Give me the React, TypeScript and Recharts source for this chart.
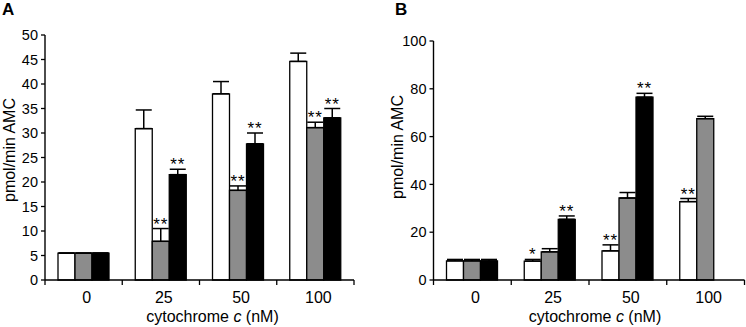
import { BarChart, Bar, XAxis, YAxis, ErrorBar, LabelList, Label } from 'recharts';

const categories = ['0', '25', '50', '100'];

// panel A
const aWhite = [5.5, 30.9, 38.0, 44.6];
const aWhiteErr = [0, 3.8, 2.5, 1.7];
const aWhiteSig = ['', '', '', ''];
const aGray = [5.5, 7.9, 18.3, 31.1];
const aGrayErr = [0, 2.6, 0.9, 1.1];
const aGraySig = ['', '**', '**', '**'];
const aBlack = [5.5, 21.5, 27.8, 33.1];
const aBlackErr = [0, 1.1, 2.2, 1.9];
const aBlackSig = ['', '**', '**', '**'];
const aTicks = [0, 5, 10, 15, 20, 25, 30, 35, 40, 45, 50];

// panel B
const bWhite = [8.0, 7.9, 12.2, 32.8];
const bWhiteErr = [0.6, 0.7, 2.5, 1.3];
const bWhiteSig = ['', '*', '**', '**'];
const bGray = [8.0, 11.8, 34.3, 67.5];
const bGrayErr = [0.6, 1.3, 2.3, 1.0];
const bGraySig = ['', '', '', ''];
const bBlack = [8.0, 25.4, 76.5, null];
const bBlackErr = [0.6, 1.4, 1.6, 0];
const bBlackSig = ['', '**', '**', ''];
const bTicks = [0, 20, 40, 60, 80, 100];

const FONT = '"Liberation Sans", Arial, sans-serif';

const buildRows = (w, we, ws, g, ge, gs, b, be, bs) =>
  categories.map((cat, i) => ({
    cat,
    white: w[i],
    whiteErr: [0, we[i]],
    whiteSig: ws[i],
    gray: g[i],
    grayErr: [0, ge[i]],
    graySig: gs[i],
    black: b[i],
    blackErr: b[i] == null ? undefined : [0, be[i]],
    blackSig: bs[i],
  }));

const rowsA = buildRows(aWhite, aWhiteErr, aWhiteSig, aGray, aGrayErr, aGraySig, aBlack, aBlackErr, aBlackSig);
const rowsB = buildRows(bWhite, bWhiteErr, bWhiteSig, bGray, bGrayErr, bGraySig, bBlack, bBlackErr, bBlackSig);

// asterisks sit just above the error bar cap
const sigLabel = (vals, errs) => (props) => {
  const { x, y, width, height, index, value } = props;
  if (!value) return null;
  const perUnit = height / vals[index];
  const top = y - errs[index] * perUnit;
  return (
    <text x={x + width / 2} y={top + 1} textAnchor="middle" fontSize={17} letterSpacing={1} fontFamily={FONT} fill="#000">
      {value}
    </text>
  );
};

const CatTick = (props) => {
  const { x, y, payload, index, visibleTicksCount } = props;
  const half = payload.offset || 0;
  const last = index === (visibleTicksCount || categories.length) - 1;
  return (
    <g>
      <line x1={x - half} x2={x - half} y1={y} y2={y + 5} stroke="#000" strokeWidth={1.3} />
      {last && <line x1={x + half} x2={x + half} y1={y} y2={y + 5} stroke="#000" strokeWidth={1.3} />}
      <text x={x + 3} y={y + 23} textAnchor="middle" fontSize={16} fontFamily={FONT} fill="#000">
        {payload.value}
      </text>
    </g>
  );
};

const xTitle = (shift) => (props) => {
  const vb = props.viewBox;
  return (
    <text x={vb.x + vb.width / 2 + shift} y={vb.y + 42} textAnchor="middle" fontSize={16} fontFamily={FONT} fill="#000">
      cytochrome <tspan fontStyle="italic">c</tspan> (nM)
    </text>
  );
};

const yTitle = (bx, cy) => (props) => {
  const vb = props.viewBox;
  const x = vb.x + bx;
  return (
    <text x={x} y={cy} textAnchor="middle" fontSize={16} fontFamily={FONT} fill="#000" transform={`rotate(-90, ${x}, ${cy})`}>
      pmol/min AMC
    </text>
  );
};

const Panel = ({ rows, ticks, max, yWidth, top, right, sets, titleShift, yLabelX, yLabelY }) => (
  <BarChart
    width={373}
    height={327}
    data={rows}
    margin={{ top, right, bottom: 17, left: 0 }}
    barGap={0}
    barSize={17}
  >
    <XAxis
      dataKey="cat"
      height={30}
      tickLine={false}
      tickSize={0}
      tickMargin={0}
      axisLine={{ stroke: '#000', strokeWidth: 1.4 }}
      tick={<CatTick />}
      interval={0}
    >
      <Label content={xTitle(titleShift)} />
    </XAxis>
    <YAxis
      width={yWidth}
      domain={[0, max]}
      ticks={ticks}
      interval={0}
      tickSize={4}
      tickMargin={3}
      axisLine={{ stroke: '#000', strokeWidth: 1.4 }}
      tickLine={{ stroke: '#000', strokeWidth: 1.3 }}
      tick={{ fill: '#000', fontSize: 14.5, fontFamily: FONT }}
    >
      <Label content={yTitle(yLabelX, yLabelY)} />
    </YAxis>
    {sets.map((s) => (
      <Bar key={s.key} dataKey={s.key} fill={s.fill} stroke="#000" strokeWidth={1.3} isAnimationActive={false}>
        <ErrorBar dataKey={`${s.key}Err`} width={8} stroke="#000" strokeWidth={1.5} direction="y" isAnimationActive={false} />
        <LabelList dataKey={`${s.key}Sig`} content={sigLabel(s.vals, s.errs)} />
      </Bar>
    ))}
  </BarChart>
);

export default function App() {
  return (
    <div style={{ position: 'absolute', left: 0, top: 0, width: 746, height: 327, background: '#fff', fontFamily: FONT }}>
      <div style={{ position: 'absolute', left: 2, top: 0, fontSize: 17, fontWeight: 'bold', lineHeight: '20px' }}>A</div>
      <div style={{ position: 'absolute', left: 395, top: 0, fontSize: 17, fontWeight: 'bold', lineHeight: '20px' }}>B</div>
      <div style={{ position: 'absolute', left: 0, top: 0 }}>
        <Panel
          rows={rowsA}
          ticks={aTicks}
          max={50}
          yWidth={45}
          top={35}
          right={19}
          titleShift={13}
          yLabelX={15}
          yLabelY={150}
          sets={[
            { key: 'white', fill: '#fff', vals: aWhite, errs: aWhiteErr },
            { key: 'gray', fill: '#8c8c8c', vals: aGray, errs: aGrayErr },
            { key: 'black', fill: '#000', vals: aBlack, errs: aBlackErr },
          ]}
        />
      </div>
      <div style={{ position: 'absolute', left: 373, top: 0 }}>
        <Panel
          rows={rowsB}
          ticks={bTicks}
          max={100}
          yWidth={60.5}
          top={41}
          right={1.5}
          titleShift={6}
          yLabelX={30}
          yLabelY={147}
          sets={[
            { key: 'white', fill: '#fff', vals: bWhite, errs: bWhiteErr },
            { key: 'gray', fill: '#8c8c8c', vals: bGray, errs: bGrayErr },
            { key: 'black', fill: '#000', vals: bBlack, errs: bBlackErr },
          ]}
        />
      </div>
    </div>
  );
}
